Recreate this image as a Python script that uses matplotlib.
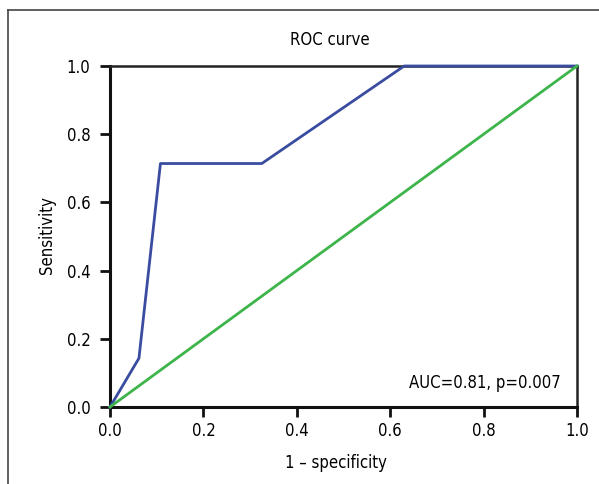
import matplotlib
matplotlib.use("Agg")
import matplotlib.pyplot as plt
from matplotlib.lines import Line2D

# --- Data ---
fpr = [0.0, 0.062, 0.108, 0.325, 0.63, 1.0]
tpr = [0.0, 0.143, 0.714, 0.714, 1.0, 1.0]
ref_x = [0.0, 1.0]
ref_y = [0.0, 1.0]
ticks = [0.0, 0.2, 0.4, 0.6, 0.8, 1.0]

plt.rcParams["font.family"] = ["DejaVu Sans"]
plt.rcParams["font.stretch"] = "condensed"

fig = plt.figure(figsize=(5.99, 4.84), dpi=100)
ax = fig.add_axes([110 / 599, 1 - 407 / 484, 467 / 599, 341 / 484])

ax.plot(fpr, tpr, color="#3a4ca0", lw=2, clip_on=False, zorder=3)
ax.plot(ref_x, ref_y, color="#3db54a", lw=2, clip_on=False, zorder=3)

ax.set_xlim(0, 1)
ax.set_ylim(0, 1)
ax.set_xticks(ticks)
ax.set_yticks(ticks)
ax.set_xticklabels([f"{t:.1f}" for t in ticks])
ax.set_yticklabels([f"{t:.1f}" for t in ticks])
ax.tick_params(direction="out", length=7, width=2, labelsize=12, color="#111111")
ax.tick_params(axis="x", pad=4)
ax.tick_params(axis="y", pad=7)

for side in ["left", "bottom"]:
    ax.spines[side].set_linewidth(2.2)
    ax.spines[side].set_color("#111111")
for side in ["top", "right"]:
    ax.spines[side].set_linewidth(1.8)
    ax.spines[side].set_color("#222222")

ax.text(0.965, 0.045, "AUC=0.81, p=0.007", transform=ax.transAxes,
        ha="right", va="bottom", fontsize=12)

fig.text(330 / 599, 1 - 40 / 484, "ROC curve", ha="center", va="center", fontsize=12)
fig.text(336 / 599, 1 - 463 / 484, "1 – specificity", ha="center", va="center", fontsize=12)
fig.text(47 / 599, 1 - 235 / 484, "Sensitivity", ha="center", va="center",
         rotation=90, fontsize=12)

# partial frame around the figure (top and left edges)
fig.add_artist(Line2D([8 / 599, 1.0], [1 - 10 / 484, 1 - 10 / 484], color="#444444", lw=1.2))
fig.add_artist(Line2D([8 / 599, 8 / 599], [0.0, 1 - 10 / 484], color="#444444", lw=1.2))

fig.savefig("out.png", dpi=100)
